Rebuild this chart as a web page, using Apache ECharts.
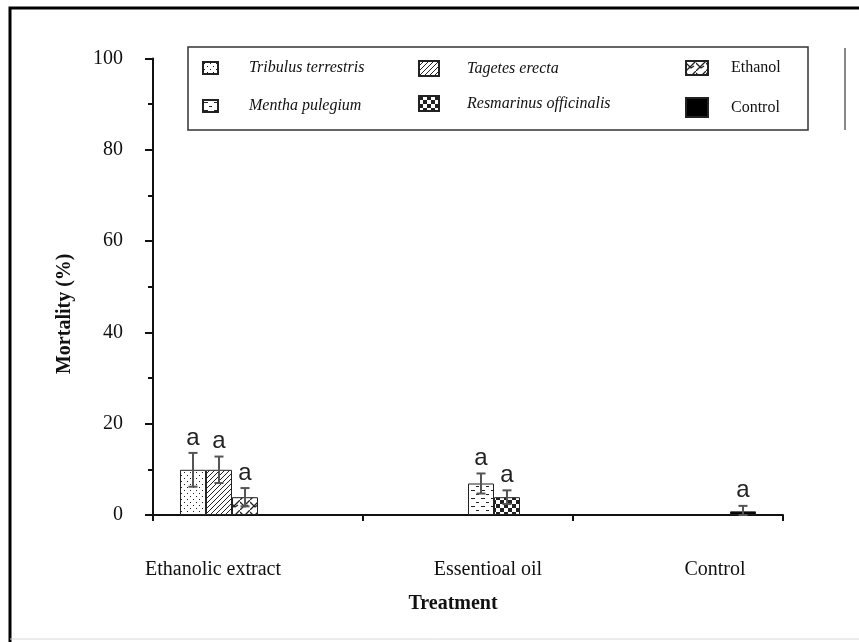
<!DOCTYPE html>
<html><head><meta charset="utf-8">
<script src="https://cdn.jsdelivr.net/npm/echarts@6/dist/echarts.min.js"></script>
<style>html,body{margin:0;padding:0;background:#fff}#c{width:859px;height:642px}</style>
</head><body><div id="c"></div>
<script>
// ---- data ----
var categories = ['Ethanolic extract', 'Essentioal oil', 'Control'];
var seriesNames = ['Tribulus terrestris', 'Tagetes erecta', 'Ethanol', 'Mentha pulegium', 'Resmarinus officinalis', 'Control'];
var tribulus = [9.9, null, null];
var tagetes = [9.9, null, null];
var ethanol = [3.9, null, null];
var mentha = [null, 6.9, null];
var resmarinus = [null, 3.9, null];
var controlVals = [null, null, 0.8];
var tribulusErr = [3.7, null, null];
var tagetesErr = [2.9, null, null];
var ethanolErr = [2.0, null, null];
var menthaErr = [null, 2.2, null];
var resmarinusErr = [null, 1.5, null];
var controlErr = [null, null, 1.2];
var letters = ['a', 'a', 'a', 'a', 'a', 'a'];
var yTicks = [0, 20, 40, 60, 80, 100];

var values = [tribulus, tagetes, ethanol, mentha, resmarinus, controlVals];
var errs = [tribulusErr, tagetesErr, ethanolErr, menthaErr, resmarinusErr, controlErr];

// ---- patterns ----
function pat(w, h, draw) {
  var c = document.createElement('canvas'); c.width = w; c.height = h;
  var g = c.getContext('2d'); g.fillStyle = '#fff'; g.fillRect(0, 0, w, h);
  g.fillStyle = '#222'; g.strokeStyle = '#222'; draw(g);
  return { image: c, repeat: 'repeat' };
}
var fills = [
  pat(6, 6, function (g) { g.fillRect(1, 1, 1, 1); g.fillRect(4, 4, 1, 1); }),
  pat(5, 5, function (g) { g.lineWidth = 1; g.beginPath(); g.moveTo(-1, 6); g.lineTo(6, -1); g.moveTo(-1, 1); g.lineTo(1, -1); g.moveTo(4, 6); g.lineTo(6, 4); g.stroke(); }),
  pat(10, 10, function (g) { g.lineWidth = 1.3; g.beginPath(); g.moveTo(0, 10); g.lineTo(10, 0); g.moveTo(0, 2); g.lineTo(5, 7); g.lineTo(8, 5); g.stroke(); }),
  pat(10, 8, function (g) { g.fillRect(1, 2, 4, 1); g.fillRect(6, 6, 3, 1); }),
  pat(8, 8, function (g) { g.fillRect(0, 0, 4, 4); g.fillRect(4, 4, 4, 4); }),
  '#000'
];

var serif = '"Liberation Serif", "Times New Roman", serif';
var gap = 0.257;

var series = seriesNames.map(function (n, i) {
  return {
    name: n, type: 'bar', data: values[i], barGap: '0%', barCategoryGap: (gap * 100) + '%',
    itemStyle: { color: fills[i], borderColor: '#222', borderWidth: 1 },
    emphasis: { disabled: true }
  };
});

var errData = [];
var errLetters = [];
values.forEach(function (arr, s) {
  arr.forEach(function (v, c) {
    if (v !== null) { errData.push([c, v, errs[s][c], s]); errLetters.push(letters[s]); }
  });
});

series.push({
  type: 'custom', name: 'err', data: errData, z: 10,
  encode: { x: 0, y: 1 },
  renderItem: function (params, api) {
    var cat = api.value(0), mean = api.value(1), sd = api.value(2), slot = api.value(3);
    var band = api.size([1, 0])[0];
    var bw = band * (1 - gap) / 6;
    var x = api.coord([cat, mean])[0] + (slot - 2.5) * bw;
    var hi = api.coord([cat, mean + sd])[1];
    var lo = api.coord([cat, Math.max(0, mean - sd)])[1];
    var st = { stroke: '#555', lineWidth: 2 };
    var cw = 4.5;
    return {
      type: 'group', children: [
        { type: 'line', shape: { x1: x, y1: hi, x2: x, y2: lo }, style: st },
        { type: 'line', shape: { x1: x - cw, y1: hi, x2: x + cw, y2: hi }, style: st },
        { type: 'line', shape: { x1: x - cw, y1: lo, x2: x + cw, y2: lo }, style: st },
        { type: 'text', x: x, y: hi - 3, style: { text: errLetters[params.dataIndex], fill: '#222', font: '24px "Liberation Sans", Arial, sans-serif', align: 'center', verticalAlign: 'bottom' } }
      ]
    };
  }
});

// one legend per entry so each can sit in its own cell
function leg(name, italic, left, centerY, iw, ih, textX) {
  var h = Math.max(ih, 16);
  return {
    orient: 'vertical', left: left, top: centerY - h / 2, padding: 0,
    itemWidth: iw, itemHeight: ih, selectedMode: false, icon: 'rect',
    data: [name],
    textStyle: {
      fontFamily: serif, fontSize: 16, color: '#111', fontStyle: italic ? 'italic' : 'normal',
      padding: [0, 0, 0, textX - (left + iw + 5)]
    }
  };
}

var chart = echarts.init(document.getElementById('c'));
chart.setOption({
  animation: false,
  backgroundColor: '#fff',
  grid: { left: 153, right: 76, top: 58.5, bottom: 127 },
  legend: [
    leg(seriesNames[0], true, 202, 68, 15, 12, 248),
    leg(seriesNames[3], true, 202, 106, 15, 12, 248),
    leg(seriesNames[1], true, 418, 68, 20, 15, 466),
    leg(seriesNames[4], true, 418, 103, 20, 15, 466),
    leg(seriesNames[2], false, 685, 68, 22, 14, 730),
    leg(seriesNames[5], false, 685, 106.5, 22, 19, 730)
  ],
  xAxis: {
    type: 'category', data: categories,
    name: 'Treatment', nameLocation: 'middle', nameGap: 79,
    nameTextStyle: { fontFamily: serif, fontWeight: 'bold', fontSize: 20, color: '#111', padding: [0, 30, 0, 0] },
    axisLine: { lineStyle: { color: '#111', width: 2 } },
    axisTick: { show: true, interval: 0, length: 6, lineStyle: { color: '#111', width: 2 } },
    axisLabel: {
      interval: 0, hideOverlap: false,
      margin: 45, fontFamily: serif, fontSize: 20, color: '#111',
      formatter: function (v, i) { return '{l' + i + '|' + v + '}'; },
      rich: {
        l0: { fontFamily: serif, fontSize: 20, color: '#111', padding: [0, 90, 0, 0] },
        l1: { fontFamily: serif, fontSize: 20, color: '#111', padding: [0, 0, 0, 40] },
        l2: { fontFamily: serif, fontSize: 20, color: '#111', padding: [0, 0, 0, 74] }
      }
    }
  },
  yAxis: {
    type: 'value', min: yTicks[0], max: yTicks[yTicks.length - 1], interval: yTicks[1] - yTicks[0],
    name: 'Mortality (%)', nameLocation: 'middle', nameGap: 78, nameRotate: 90,
    nameTextStyle: { fontFamily: serif, fontWeight: 'bold', fontSize: 20, color: '#111', padding: [0, 54, 0, 0] },
    axisLine: { show: true, lineStyle: { color: '#111', width: 2 } },
    axisTick: { show: true, length: 8, lineStyle: { color: '#111', width: 2 } },
    minorTick: { show: true, splitNumber: 2, length: 5, lineStyle: { color: '#111', width: 2 } },
    splitLine: { show: false },
    axisLabel: { margin: 30, fontFamily: serif, fontSize: 20, color: '#111' }
  },
  graphic: [
    { type: 'polyline', silent: true, shape: { points: [[10, 642], [10, 8], [859, 8]] }, style: { stroke: '#000', lineWidth: 3, fill: null } },
    { type: 'line', silent: true, shape: { x1: 10, y1: 639, x2: 859, y2: 639 }, style: { stroke: '#d8d8d8', lineWidth: 1 } },
    { type: 'rect', silent: true, shape: { x: 188, y: 47, width: 620, height: 83 }, style: { stroke: '#333', lineWidth: 1.5, fill: null } },
    { type: 'line', silent: true, shape: { x1: 845, y1: 48, x2: 845, y2: 130 }, style: { stroke: '#888', lineWidth: 2 } }
  ],
  series: series
});
</script></body></html>
